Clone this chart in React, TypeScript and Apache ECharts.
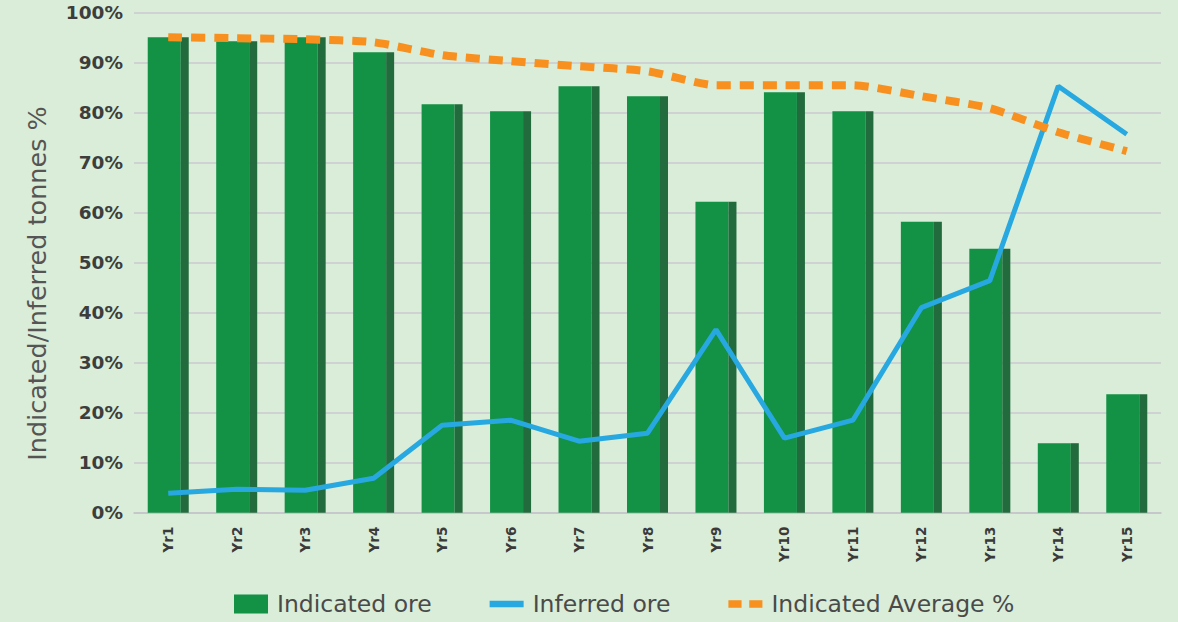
import React, { useEffect, useRef } from "react";
import * as echarts from "echarts";

const categories = ["Yr1","Yr2","Yr3","Yr4","Yr5","Yr6","Yr7","Yr8","Yr9","Yr10","Yr11","Yr12","Yr13","Yr14","Yr15"];
const indicatedOre = [95.1, 94.3, 95.1, 92.1, 81.7, 80.3, 85.3, 83.3, 62.2, 84.1, 80.3, 58.2, 52.8, 13.9, 23.7];
const inferredOre = [3.9, 4.7, 4.5, 6.9, 17.5, 18.5, 14.3, 15.9, 36.6, 14.9, 18.5, 41.0, 46.4, 85.3, 75.7];
const indicatedAvg = [95.1, 94.9, 94.7, 94.1, 91.5, 90.3, 89.3, 88.3, 85.5, 85.5, 85.5, 83.3, 80.9, 76.1, 72.3];
const yTicks = ["0%","10%","20%","30%","40%","50%","60%","70%","80%","90%","100%"];
const yTitle = "Indicated/Inferred tonnes %";

const FONT = "'DejaVu Sans', sans-serif";

export default function App() {
  const ref = useRef<HTMLDivElement>(null);
  useEffect(() => {
    document.body.style.margin = "0";
    const chart = echarts.init(ref.current!, null, { renderer: "svg" });
    chart.setOption({
      animation: false,
      backgroundColor: "#d9edd8",
      textStyle: { fontFamily: FONT },
      grid: { left: 134, right: 17, top: 12.7, bottom: 109.3 },
      graphic: [
        {
          type: "text",
          x: 37,
          y: 283.5,
          rotation: Math.PI / 2,
          style: {
            text: yTitle,
            fontSize: 25.5,
            fontFamily: FONT,
            fill: "#555555",
            align: "center",
            verticalAlign: "middle",
          },
        },
      ],
      legend: {
        bottom: 5,
        left: 234,
        padding: 0,
        itemWidth: 34,
        itemHeight: 19,
        itemGap: 58,
        data: [
          { name: "Indicated ore", icon: "rect" },
          { name: "Inferred ore", icon: "path://M0,0 L36,0 L36,7 L0,7 Z" },
          { name: "Indicated Average %", icon: "path://M0,0 L12,0 L12,7 L0,7 Z M19,0 L31,0 L31,7 L19,7 Z" },
        ],
        textStyle: { fontSize: 23.5, lineHeight: 26, color: "#4a4a4a", fontFamily: FONT, padding: [0, 0, 0, 4] },
      },
      xAxis: {
        type: "category",
        data: categories,
        axisLine: { lineStyle: { color: "#c4c4c8", width: 1.5 } },
        axisTick: { show: false },
        axisLabel: {
          rotate: 90,
          margin: 14,
          fontSize: 13.5,
          fontWeight: "bold",
          color: "#3a3a3a",
          fontFamily: FONT,
        },
      },
      yAxis: {
        type: "value",
        min: 0,
        max: 100,
        interval: 10,
        axisLabel: {
          formatter: (v: number) => yTicks[Math.round(v / 10)],
          fontSize: 18.5,
          fontWeight: "bold",
          color: "#3d3d3d",
          margin: 11,
          fontFamily: FONT,
        },
        splitLine: { lineStyle: { color: "#cbc8d0", width: 1.5 } },
        axisLine: { show: false },
        axisTick: { show: false },
      },
      series: [
        {
          name: "Indicated ore",
          type: "bar",
          data: indicatedOre,
          barWidth: 33,
          barGap: "0%",
          itemStyle: { color: "#139145" },
        },
        {
          name: "side",
          type: "bar",
          data: indicatedOre,
          barWidth: 8,
          itemStyle: { color: "#216b3c" },
        },
        {
          name: "Inferred ore",
          type: "line",
          data: inferredOre,
          symbol: "none",
          lineStyle: { color: "#27a8e0", width: 5 },
          itemStyle: { color: "#27a8e0" },
          z: 5,
        },
        {
          name: "Indicated Average %",
          type: "line",
          data: indicatedAvg,
          symbol: "none",
          smooth: 0.2,
          lineStyle: { color: "#f7901e", width: 8, type: [14, 9] },
          itemStyle: { color: "#f7901e" },
          z: 6,
        },
      ],
    });
    return () => chart.dispose();
  }, []);
  return <div ref={ref} style={{ width: 1178, height: 622 }} />;
}
